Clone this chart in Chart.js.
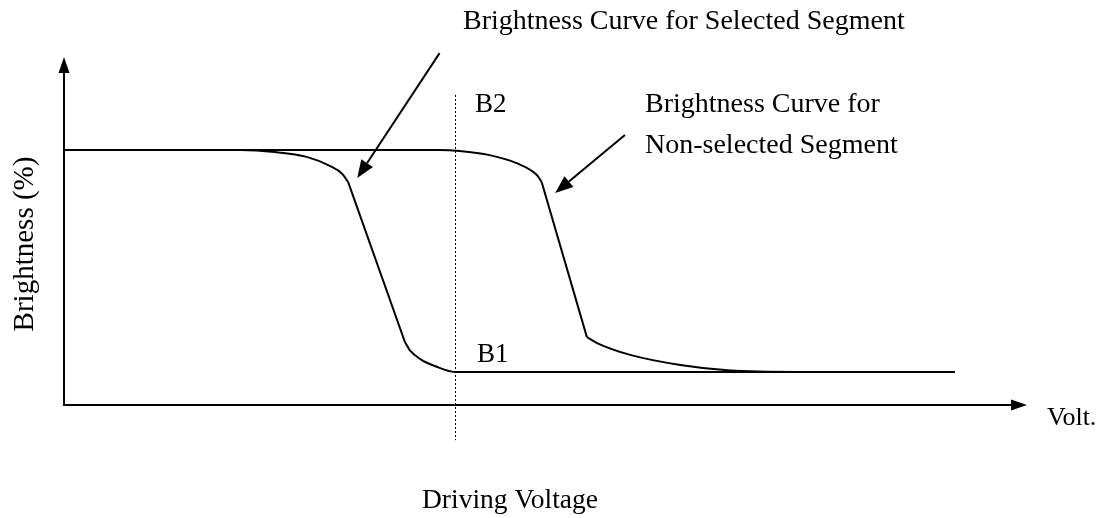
<!DOCTYPE html>
<html>
<head>
<meta charset="utf-8">
<script src="https://cdn.jsdelivr.net/npm/chart.js@4/dist/chart.umd.min.js"></script>
<style>
  html, body { margin: 0; padding: 0; background: #fff; }
  #wrap { width: 1105px; height: 518px; }
</style>
</head>
<body>
<div id="wrap"><canvas id="c" width="1105" height="518"></canvas></div>
<script>
// ---- data (x: driving voltage, relative 0-100; y: brightness, relative 0-100) ----
const selectedTopX    = [0, 18.3, 21.9, 25.2, 27.6, 28.9, 29.5];
const selectedTopY    = [73.3, 73.3, 72.7, 71.3, 68.7, 66.4, 64.1];
const selectedSlopeX  = [29.5, 35.4];
const selectedSlopeY  = [64.1, 18.1];
const selectedLowX    = [35.4, 35.9, 37.0, 38.5, 40.6, 92.5];
const selectedLowY    = [18.1, 15.8, 13.2, 11.2, 9.5, 9.5];

const nonSelTopX      = [0, 39.0, 41.1, 44.2, 47.0, 49.1, 49.6];
const nonSelTopY      = [73.3, 73.3, 73.0, 71.8, 69.5, 66.1, 64.1];
const nonSelSlopeX    = [49.6, 54.3];
const nonSelSlopeY    = [64.1, 19.5];
const nonSelLowX      = [54.3, 55.35, 58.8, 64.0, 69.2, 76.1, 92.5];
const nonSelLowY      = [19.5, 17.8, 14.4, 11.5, 9.9, 9.5, 9.5];

const driveVoltageX   = 40.6;   // dotted marker
const levelLabels     = ['B2', 'B1'];
const curveLabels     = ['Brightness Curve for Selected Segment', 'Brightness Curve for', 'Non-selected Segment'];
const axisTitleX      = 'Volt.';
const axisTitleBottom = 'Driving Voltage';
const axisTitleY      = 'Brightness (%)';

function pts(xs, ys) { return xs.map((x, i) => ({ x: x, y: ys[i] })); }

const lineStyle = { borderColor: '#000', borderWidth: 2, pointRadius: 0, fill: false };
const datasets = [
  Object.assign({ label: 'sel-top',  data: pts(selectedTopX, selectedTopY), cubicInterpolationMode: 'monotone' }, lineStyle),
  Object.assign({ label: 'sel-slope', data: pts(selectedSlopeX, selectedSlopeY), tension: 0 }, lineStyle),
  Object.assign({ label: 'sel-low',  data: pts(selectedLowX, selectedLowY), cubicInterpolationMode: 'monotone' }, lineStyle),
  Object.assign({ label: 'non-top',  data: pts(nonSelTopX, nonSelTopY), cubicInterpolationMode: 'monotone' }, lineStyle),
  Object.assign({ label: 'non-slope', data: pts(nonSelSlopeX, nonSelSlopeY), tension: 0 }, lineStyle),
  Object.assign({ label: 'non-low',  data: pts(nonSelLowX, nonSelLowY), cubicInterpolationMode: 'monotone' }, lineStyle)
];

const FONT = '"Liberation Serif", "Times New Roman", serif';

function arrow(ctx, x1, y1, x2, y2, len, half) {
  const a = Math.atan2(y2 - y1, x2 - x1);
  const bx = x2 - len * Math.cos(a), by = y2 - len * Math.sin(a);
  ctx.beginPath();
  ctx.moveTo(x1, y1);
  ctx.lineTo(bx, by);
  ctx.stroke();
  ctx.beginPath();
  ctx.moveTo(x2, y2);
  ctx.lineTo(bx + half * Math.sin(a), by - half * Math.cos(a));
  ctx.lineTo(bx - half * Math.sin(a), by + half * Math.cos(a));
  ctx.closePath();
  ctx.fill();
}

const decor = {
  id: 'decor',
  afterDatasetsDraw(chart) {
    const ctx = chart.ctx, xs = chart.scales.x, ys = chart.scales.y, ca = chart.chartArea;
    const X = v => xs.getPixelForValue(v), Y = v => ys.getPixelForValue(v);
    ctx.save();
    ctx.strokeStyle = '#000'; ctx.fillStyle = '#000';
    // axes with arrows
    ctx.lineWidth = 2;
    arrow(ctx, ca.left, ca.bottom, ca.left, ca.top, 16, 5.5);
    arrow(ctx, ca.left - 1, ca.bottom, ca.right, ca.bottom, 16, 5.5);
    // dotted driving-voltage marker
    ctx.lineWidth = 1;
    ctx.setLineDash([2, 2]);
    ctx.beginPath();
    ctx.moveTo(Math.round(X(driveVoltageX)) + 0.5, Y(89.1));
    ctx.lineTo(Math.round(X(driveVoltageX)) + 0.5, Y(-10.1));
    ctx.stroke();
    ctx.setLineDash([]);
    // pointer arrows
    ctx.lineWidth = 2;
    arrow(ctx, X(39.0), Y(101.1), X(30.45), Y(65.2), 18, 7);
    arrow(ctx, X(58.25), Y(77.6), X(51.0), Y(60.9), 18, 7);
    // texts
    ctx.textBaseline = 'alphabetic';
    ctx.textAlign = 'left';
    ctx.font = '28px ' + FONT;
    ctx.fillText(curveLabels[0], 463, 29);
    ctx.fillText(curveLabels[1], 645, 112);
    ctx.fillText(curveLabels[2], 645, 153);
    ctx.font = '27px ' + FONT;
    ctx.fillText(levelLabels[0], 475, 112);
    ctx.fillText(levelLabels[1], 477, 362);
    ctx.font = '26px ' + FONT;
    ctx.fillText(axisTitleX, 1047, 425);
    ctx.font = '27.5px ' + FONT;
    ctx.fillText(axisTitleBottom, 422, 508);
    ctx.save();
    ctx.translate(33, 244);
    ctx.rotate(-Math.PI / 2);
    ctx.textAlign = 'center';
    ctx.font = '29px ' + FONT;
    ctx.fillText(axisTitleY, 0, 0);
    ctx.restore();
    ctx.restore();
  }
};

new Chart(document.getElementById('c'), {
  type: 'line',
  data: { datasets: datasets },
  options: {
    responsive: false,
    animation: false,
    devicePixelRatio: 1,
    layout: { padding: { left: 64, right: 78, top: 57, bottom: 113 } },
    plugins: { legend: { display: false }, tooltip: { enabled: false } },
    scales: {
      x: { type: 'linear', min: 0, max: 100, display: false },
      y: { type: 'linear', min: 0, max: 100, display: false }
    }
  },
  plugins: [decor]
});
</script>
</body>
</html>
